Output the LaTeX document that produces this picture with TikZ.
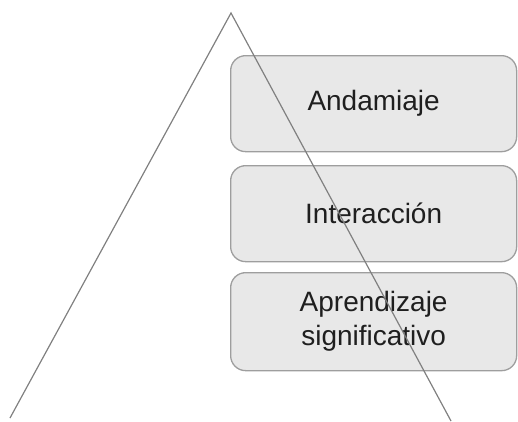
\documentclass[tikz,border=0pt]{standalone}
\usepackage{fontspec}
\setmainfont{Liberation Sans}
\begin{document}
\begin{tikzpicture}[x=1pt,y=-1pt,
  level/.style={draw=black!38, line width=1.3pt, fill=black!9, rounded corners=15pt,
    minimum width=286pt, inner sep=0pt, font=\fontsize{28}{34}\selectfont, text=black!88,
    align=center, anchor=north west},
  side/.style={draw=black!50, line width=1.2pt}]
\useasboundingbox (0,0) rectangle (518,421);
\node[level, minimum height=96pt] (b1) at (230,55) {Andamiaje};
\node[level, minimum height=96pt] (b2) at (230,165) {Interacción};
\node[level, minimum height=98pt] (b3) at (230,272) {Aprendizaje\\significativo};
\coordinate (apex) at (231,13);
\coordinate (bl) at (10,418);
\coordinate (br) at (451,421);
\draw[side] (bl) -- (apex) -- (br);
\end{tikzpicture}
\end{document}
